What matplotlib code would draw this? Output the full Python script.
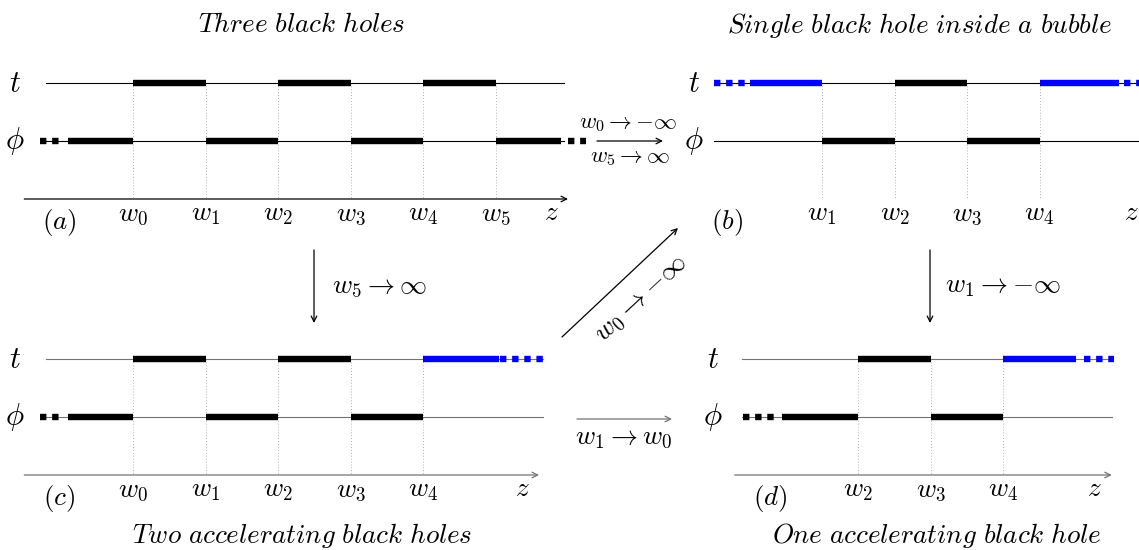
import matplotlib
matplotlib.use("Agg")
import matplotlib.pyplot as plt

plt.rcParams['mathtext.fontset'] = 'cm'

# rod structure of each solution: w-indices shown, thick rods on t and phi rows
# None means the rod runs off to infinity (drawn dotted)
a_w = [0, 1, 2, 3, 4, 5]
a_t_rods = [(0, 1), (2, 3), (4, 5)]
a_phi_rods = [(None, 0), (1, 2), (3, 4), (5, None)]

b_w = [1, 2, 3, 4]
b_t_rods = [(None, 1), (2, 3), (4, None)]
b_phi_rods = [(1, 2), (3, 4)]

c_w = [0, 1, 2, 3, 4]
c_t_rods = [(0, 1), (2, 3), (4, None)]
c_phi_rods = [(None, 0), (1, 2), (3, 4)]

d_w = [2, 3, 4]
d_t_rods = [(2, 3), (4, None)]
d_phi_rods = [(None, 2), (3, 4)]

titles = ['Three black holes', 'Single black hole inside a bubble',
          'Two accelerating black holes', 'One accelerating black hole']

DX = 72.5  # pixels between consecutive w's
THICK = 4.6
THIN = 0.8
ON, OFF = 1.0, 0.9
DOTS = (0, (ON, OFF))
ON_PX = ON * THICK * 100 / 72
OFF_PX = OFF * THICK * 100 / 72
FS = 19.5

fig = plt.figure(figsize=(11.39, 5.5), dpi=100)
ax = fig.add_axes([0, 0, 1, 1])
ax.set_xlim(0, 1139)
ax.set_ylim(550, 0)
ax.axis('off')


def px(x0, w):
    return x0 + w * DX


def dots_len(n):
    return n * ON_PX + (n - 1) * OFF_PX


def draw_rods(x0, y, rods, blue_inf, lext, rext):
    for lo, hi in rods:
        inf = lo is None or hi is None
        col = 'blue' if (inf and blue_inf) else 'black'
        if lo is None:
            solid, n, gap = lext
            s = px(x0, hi - solid)
            ax.plot([s, px(x0, hi)], [y, y], color=col, lw=THICK, solid_capstyle='butt')
            ax.plot([s - gap - dots_len(n), s - gap], [y, y], color=col, lw=THICK, ls=DOTS, dash_capstyle='butt')
        elif hi is None:
            solid, n, gap = rext
            e = px(x0, lo + solid)
            ax.plot([px(x0, lo), e], [y, y], color=col, lw=THICK, solid_capstyle='butt')
            ax.plot([e + gap, e + gap + dots_len(n)], [y, y], color=col, lw=THICK, ls=DOTS, dash_capstyle='butt')
        else:
            ax.plot([px(x0, lo), px(x0, hi)], [y, y], color=col, lw=THICK, solid_capstyle='butt')


def draw_panel(x0, ty, ws, t_rods, phi_rods, left, right, axl, axr, letter, linecol,
               lext, rext, zx=None, lab_x=None):
    py = ty + 58
    zy = ty + 116
    # thin rows
    ax.plot([px(x0, left), px(x0, right)], [ty, ty], color=linecol, lw=THIN, zorder=1)
    ax.plot([px(x0, left), px(x0, right)], [py, py], color=linecol, lw=THIN, zorder=1)
    # vertical guides
    for w in ws:
        ax.plot([px(x0, w), px(x0, w)], [ty, zy], color='0.6', lw=0.6, ls=(0, (1, 2.5)), zorder=0)
        ax.text(px(x0, w), zy + 15, r'$w_{%d}$' % w, ha='center', va='center', fontsize=FS)
    draw_rods(x0, ty, t_rods, True, lext, rext)
    draw_rods(x0, py, phi_rods, False, lext, rext)
    # z axis
    ax.annotate('', xy=(px(x0, axr), zy), xytext=(px(x0, axl), zy),
                arrowprops=dict(arrowstyle='->', lw=0.9, color=linecol, shrinkA=0, shrinkB=0))
    if zx is None:
        zx = px(x0, axr) - 17
    ax.text(zx, zy + 14, r'$z$', ha='center', va='center', fontsize=FS)
    ax.text(px(x0, axl) + 35, zy + 23, r'$(%s)$' % letter, ha='center', va='center', fontsize=FS)
    ax.text(lab_x, ty, r'$t$', ha='center', va='center', fontsize=22)
    ax.text(lab_x, py, r'$\phi$', ha='center', va='center', fontsize=22)


draw_panel(133, 83, a_w, a_t_rods, a_phi_rods, -1.2, 5.95, -1.5, 6.0, 'a', 'black',
           lext=(0.9, 2, 9), rext=(0.9, 2, 7), lab_x=15)
draw_panel(749.5, 83, b_w, b_t_rods, b_phi_rods, -0.49, 6.0, -0.79, 6.0, 'b', 'black',
           lext=(1.0, 3, 5), rext=(1.1, 3, 5), zx=1131, lab_x=694)
draw_panel(133, 359, c_w, c_t_rods, c_phi_rods, -1.2, 5.65, -1.5, 5.6, 'c', '0.45',
           lext=(0.9, 2, 9), rext=(1.05, 4, 1), lab_x=15)
draw_panel(713, 359, d_w, d_t_rods, d_phi_rods, 0.4, 5.5, 0.3, 5.5, 'd', '0.45',
           lext=(1.05, 3, 8), rext=(1.0, 3, 8), lab_x=713)


def it(s):
    return r'$\mathit{' + s.replace(' ', r'\ ') + '}$'


ax.text(302, 25, it(titles[0]), ha='center', va='center', fontsize=FS)
ax.text(920, 25, it(titles[1]), ha='center', va='center', fontsize=FS)
ax.text(302, 535, it(titles[2]), ha='center', va='center', fontsize=FS)
ax.text(937, 535, it(titles[3]), ha='center', va='center', fontsize=FS)

arr = dict(arrowstyle='->', lw=0.9, color='black', shrinkA=0, shrinkB=0)
# (a) -> (b)
ax.annotate('', xy=(663, 141), xytext=(597, 141), arrowprops=arr)
ax.text(628, 123, r'$w_0 \rightarrow {-\infty}$', ha='center', va='center', fontsize=16.5)
ax.text(630, 157, r'$w_5 \rightarrow \infty$', ha='center', va='center', fontsize=16.5)
# (a) -> (c)
ax.annotate('', xy=(314, 323), xytext=(314, 250), arrowprops=arr)
ax.text(332, 286, r'$w_5 \rightarrow \infty$', ha='left', va='center', fontsize=FS)
# (b) -> (d)
ax.annotate('', xy=(930, 323), xytext=(930, 250), arrowprops=arr)
ax.text(945, 286, r'$w_1 \rightarrow {-\infty}$', ha='left', va='center', fontsize=FS)
# (c) -> (b)
ax.annotate('', xy=(678, 228), xytext=(562, 337), arrowprops=arr)
ax.text(640, 298, r'$w_0 \rightarrow {-\infty}$', ha='center', va='center', fontsize=FS, rotation=43)
# (c) -> (d)
ax.annotate('', xy=(672, 419), xytext=(577, 419), arrowprops=dict(arr, color='0.45'))
ax.text(624, 437, r'$w_1 \rightarrow w_0$', ha='center', va='center', fontsize=FS)

fig.savefig('out.png', dpi=100)
